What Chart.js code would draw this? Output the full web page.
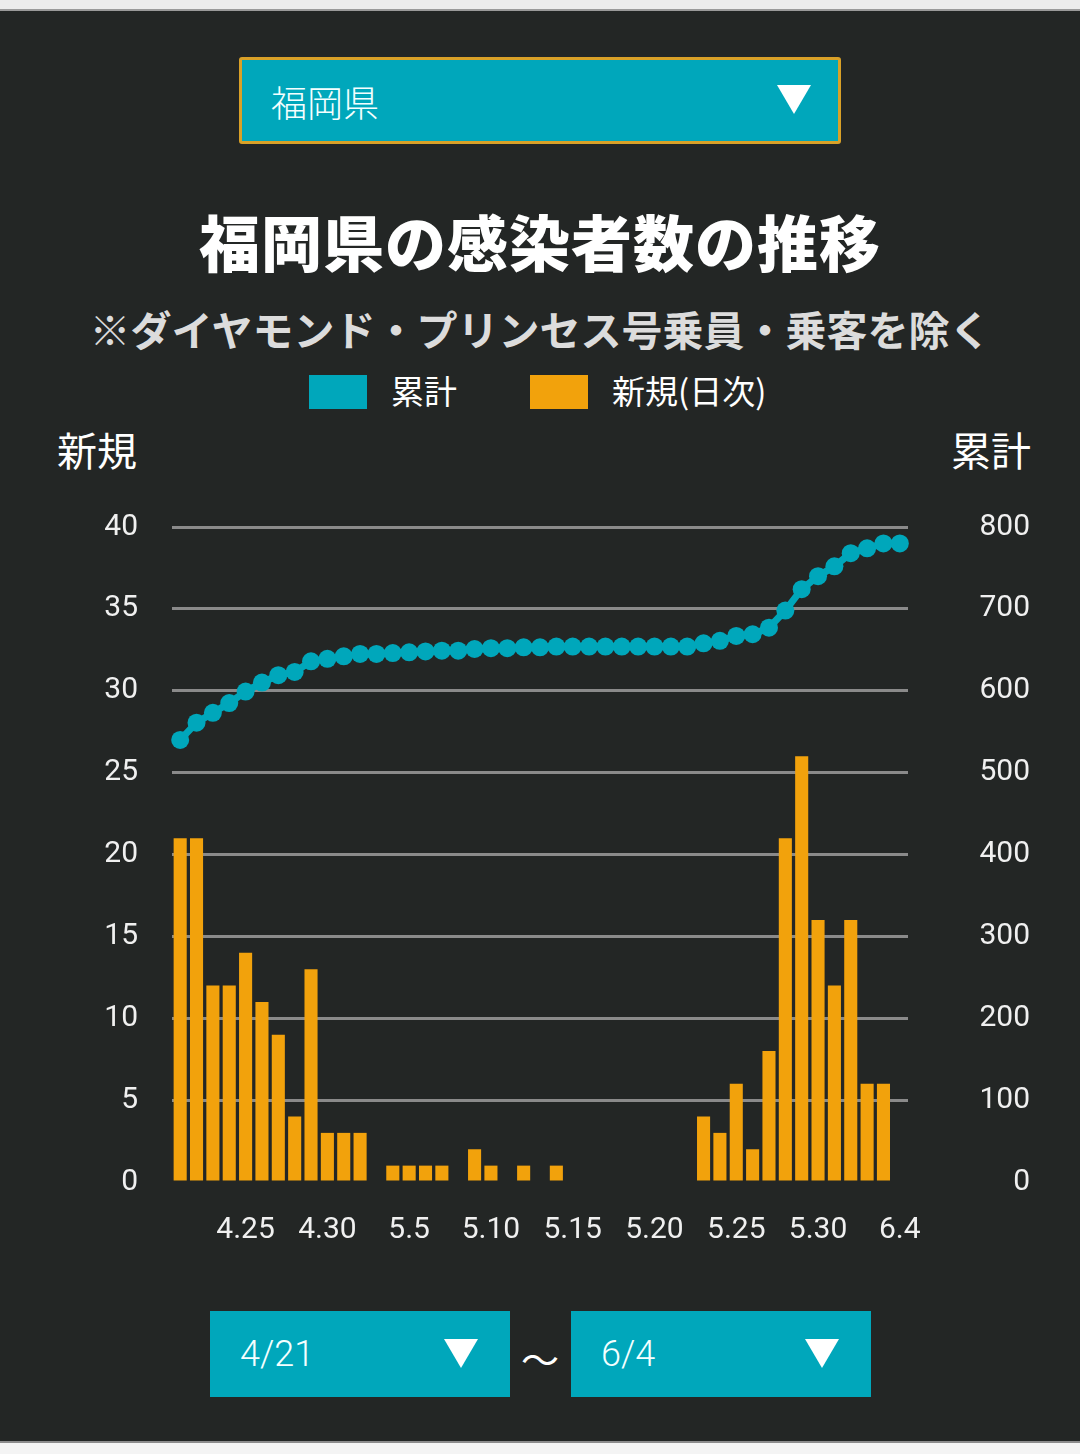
<!DOCTYPE html>
<html lang="ja">
<head>
<meta charset="utf-8">
<title>福岡県の感染者数の推移</title>
<script src="https://cdn.jsdelivr.net/npm/chart.js@4/dist/chart.umd.min.js"></script>
<style>
  html, body { margin: 0; padding: 0; }
  body {
    width: 1080px; height: 1454px; position: relative; overflow: hidden;
    background: #232625; color: #fff;
    font-family: "Noto Sans CJK JP", Roboto, sans-serif;
  }
  .topbar { position: absolute; left: 0; top: 0; width: 1080px; height: 9px; background: #ececec; border-bottom: 2px solid #9a9a9a; }
  .bottombar { position: absolute; left: 0; top: 1441px; width: 1080px; height: 13px; background: #f4f4f4; border-top: 2px solid #8c8c8c; }
  .select {
    position: absolute; background: #00a7bb; box-sizing: border-box;
    display: flex; align-items: center; color: #f4ffff; font-weight: 300;
  }
  .select .tri {
    position: absolute; width: 0; height: 0;
    border-left: 17px solid transparent; border-right: 17px solid transparent;
    border-top: 29px solid #fff;
  }
  #pref { left: 239px; top: 57px; width: 602px; height: 87px; border: 3px solid #d9a128; border-radius: 3px; font-size: 36px; padding-left: 29px; }
  #pref .tri { left: 535px; top: 25px; }
  #from { left: 210px; top: 1311px; width: 300px; height: 86px; font-size: 36px; padding-left: 30px; font-family: Roboto, sans-serif; }
  #to { left: 571px; top: 1311px; width: 300px; height: 86px; font-size: 36px; padding-left: 30px; font-family: Roboto, sans-serif; }
  #from .tri, #to .tri { left: 234px; top: 28px; }
  .tilde { position: absolute; left: 520px; top: 1330px; width: 40px; text-align: center; font-size: 38px; color: #fff; }
  h1 {
    position: absolute; left: 0; top: 198px; width: 1080px; margin: 0; text-align: center;
    font-size: 61px; font-weight: 900; line-height: 86px; letter-spacing: 1px;
  }
  .sub {
    position: absolute; left: 0; top: 302px; width: 1080px; text-align: center;
    font-size: 41px; font-weight: 700; color: #dcdcdc; line-height: 52px;
  }
  .legend { position: absolute; top: 373px; left: 0; width: 1080px; height: 38px; }
  .legend .box { position: absolute; top: 2px; width: 58px; height: 34px; }
  .legend .lbl { position: absolute; top: -6px; font-size: 33px; line-height: 46px; color: #fff; }
  .axt { position: absolute; top: 423px; font-size: 40px; line-height: 52px; color: #fff; }
  #chartBox { position: absolute; left: 0; top: 475px; width: 1080px; height: 787px; }
</style>
</head>
<body>
<div class="topbar"></div>

<div class="select" id="pref">福岡県<div class="tri"></div></div>

<h1>福岡県の感染者数の推移</h1>
<div class="sub">※ダイヤモンド・プリンセス号乗員・乗客を除く</div>

<div class="legend">
  <div class="box" style="left:309px;background:#00a7bb"></div>
  <div class="lbl" style="left:391px">累計</div>
  <div class="box" style="left:530px;background:#f2a20c"></div>
  <div class="lbl" style="left:612px">新規(日次)</div>
</div>

<div class="axt" style="left:57px">新規</div>
<div class="axt" style="left:951px">累計</div>

<div id="chartBox"><canvas id="infectionChart"></canvas></div>

<div class="select" id="from">4/21<div class="tri"></div></div>
<div class="tilde">～</div>
<div class="select" id="to">6/4<div class="tri"></div></div>

<div class="bottombar"></div>

<script>
// Dates 4/21 - 6/4
const dates = [
  '4.21', '4.22', '4.23', '4.24', '4.25', '4.26', '4.27', '4.28', '4.29', '4.30',
  '5.1', '5.2', '5.3', '5.4', '5.5', '5.6', '5.7', '5.8', '5.9', '5.10',
  '5.11', '5.12', '5.13', '5.14', '5.15', '5.16', '5.17', '5.18', '5.19', '5.20',
  '5.21', '5.22', '5.23', '5.24', '5.25', '5.26', '5.27', '5.28', '5.29', '5.30',
  '5.31', '6.1', '6.2', '6.3', '6.4'
];
// only these dates get a label under the axis
const shownDates = ['4.25', '4.30', '5.5', '5.10', '5.15', '5.20', '5.25', '5.30', '6.4'];

// 新規(日次)
const newCases = [
  21, 21, 12, 12, 14, 11, 9, 4, 13, 3,
  3, 3, 0, 1, 1, 1, 1, 0, 2, 1,
  0, 1, 0, 1, 0, 0, 0, 0, 0, 0,
  0, 0, 4, 3, 6, 2, 8, 21, 26, 16,
  12, 16, 6, 6, 0
];
// 累計
const totalCases = [
  540, 561, 573, 585, 599, 610, 619, 623, 636, 639,
  642, 645, 645, 646, 647, 648, 649, 649, 651, 652,
  652, 653, 653, 654, 654, 654, 654, 654, 654, 654,
  654, 654, 658, 661, 667, 669, 677, 698, 724, 740,
  752, 768, 774, 780, 780
];
const leftTicks = [0, 5, 10, 15, 20, 25, 30, 35, 40];
const rightTicks = [0, 100, 200, 300, 400, 500, 600, 700, 800];

const teal = '#00a7bb';
const orange = '#f2a20c';
const tickFont = { family: 'Roboto', size: 30 };

new Chart(document.getElementById('infectionChart'), {
    type: 'bar',
    data: {
        labels: dates,
        datasets: [
            {
                type: 'line',
                label: '累計',
                data: totalCases,
                yAxisID: 'yTotal',
                borderColor: teal,
                backgroundColor: teal,
                borderWidth: 7,
                pointRadius: 9,
                pointBorderWidth: 0,
                tension: 0,
                order: 0
            },
            {
                type: 'bar',
                label: '新規(日次)',
                data: newCases,
                yAxisID: 'yNew',
                backgroundColor: orange,
                barPercentage: 0.8,
                categoryPercentage: 1,
                order: 1
            }
        ]
    },
    options: {
        responsive: true,
        maintainAspectRatio: false,
        animation: false,
        layout: { padding: { top: 0, right: 50, left: 0, bottom: 0 } },
        plugins: { legend: { display: false }, tooltip: { enabled: false } },
        scales: {
            x: {
                grid: { display: false },
                border: { display: false },
                ticks: {
                    color: '#f0f0f0',
                    font: tickFont,
                    padding: 22,
                    autoSkip: false,
                    maxRotation: 0,
                    callback: function(value) {
                        const lbl = this.getLabelForValue(value);
                        return shownDates.includes(lbl) ? lbl : '';
                    }
                },
                afterFit: scale => { scale.height = 80; }
            },
            yNew: {
                position: 'left',
                min: leftTicks[0],
                max: leftTicks[leftTicks.length - 1],
                afterBuildTicks: scale => { scale.ticks = leftTicks.map(v => ({ value: v })); },
                grid: {
                    drawTicks: false,
                    lineWidth: 3,
                    color: ctx => ctx.tick && ctx.tick.value === 0 ? 'rgba(0,0,0,0)' : '#8a8a8a'
                },
                border: { display: false },
                ticks: { color: '#f0f0f0', font: tickFont, padding: 34 },
                afterFit: scale => { scale.width = 172; }
            },
            yTotal: {
                position: 'right',
                min: rightTicks[0],
                max: rightTicks[rightTicks.length - 1],
                afterBuildTicks: scale => { scale.ticks = rightTicks.map(v => ({ value: v })); },
                grid: { display: false, drawTicks: false },
                border: { display: false },
                ticks: { color: '#f0f0f0', font: tickFont, crossAlign: 'far' },
                afterFit: scale => { scale.width = 122; }
            }
        }
    }
});
</script>
</body>
</html>
